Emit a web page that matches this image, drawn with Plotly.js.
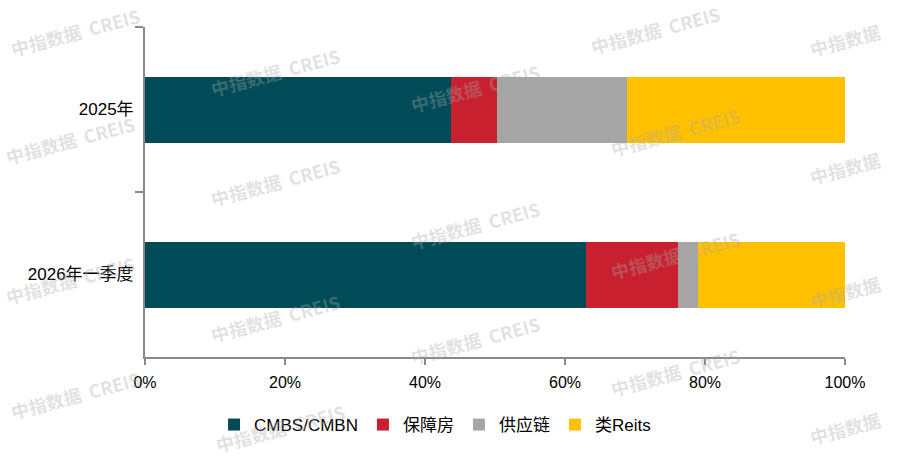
<!DOCTYPE html>
<html><head><meta charset="utf-8">
<script src="https://cdn.plot.ly/plotly-3.0.1.min.js"></script>
<style>html,body{margin:0;padding:0;background:#fff}#c{width:897px;height:457px}</style>
</head><body><div id="c"></div>
<script>
const categories = ["2025年", "2026年一季度"];
const seriesNames = ["CMBS/CMBN", "保障房", "供应链", "类Reits"];
const cmbs = [43.7, 63.0];
const baozhang = [6.6, 13.1];
const gongying = [18.6, 2.9];
const leiReits = [31.1, 21.0];
const xTickVals = [0, 20, 40, 60, 80, 100];
const xTickText = ["0%", "20%", "40%", "60%", "80%", "100%"];
const colors = ["#004B57", "#C8202F", "#A5A5A5", "#FFC000"];

const seriesValues = [cmbs, baozhang, gongying, leiReits];
const traces = seriesNames.map((n, i) => ({
  type: "bar", orientation: "h", name: n,
  y: categories, x: seriesValues[i],
  marker: {color: colors[i], line: {width: 0}},
  hoverinfo: "x+name"
}));

const wm = "中指数据  CREIS";
const wmPos = [[75,32],[655,30],[845,40],[275,72],[475,88],[70,140],[675,132],[845,168],[275,182],[475,225],[70,280],[675,255],[845,292],[275,318],[475,340],[75,395],[675,372],[280,428],[845,428]];
const annotations = wmPos.map(p => ({
  text: (p[0] > 800 ? "中指数据" : wm), xref: "paper", yref: "paper",
  x: (p[0] - 145) / 700, y: 1 - (p[1] - 27) / 330, xanchor: "center", yanchor: "middle",
  showarrow: false, textangle: -15,
  font: {family: "Noto Sans CJK SC, DejaVu Sans", size: 18, color: "rgba(170,170,170,0.35)", weight: 700}
}));

const layout = {
  width: 897, height: 457,
  margin: {l: 145, r: 52, t: 27, b: 100},
  paper_bgcolor: "#fff", plot_bgcolor: "#fff",
  barmode: "stack", bargap: 0.6,
  showlegend: true,
  legend: {orientation: "h", xref: "container", yref: "container", x: 0.485, xanchor: "center", y: 0.07, yanchor: "middle",
    font: {family: "Liberation Sans, Noto Sans CJK SC", size: 17, color: "#000"}, traceorder: "normal", itemwidth: 30},
  xaxis: {range: [0, 100], tickvals: xTickVals, ticktext: xTickText, showgrid: false, zeroline: false,
    showline: true, linecolor: "#888", linewidth: 2, ticks: "outside", ticklen: 6, tickcolor: "#888", tickwidth: 2,
    ticklabelstandoff: 4,
    tickfont: {family: "Liberation Sans, DejaVu Sans", size: 16, color: "#000"}, fixedrange: true},
  yaxis: {categoryorder: "array", categoryarray: categories, autorange: "reversed", showgrid: false, zeroline: false,
    showline: true, linecolor: "#888", linewidth: 2, ticks: "outside", ticklen: 8, tickcolor: "#888", tickwidth: 2,
    tickson: "boundaries", ticklabelstandoff: 6,
    tickfont: {family: "Liberation Sans, Noto Sans CJK SC", size: 17, color: "#000"}},
  annotations: annotations
};
Plotly.newPlot("c", traces, layout, {displayModeBar: false, staticPlot: true});
</script></body></html>
